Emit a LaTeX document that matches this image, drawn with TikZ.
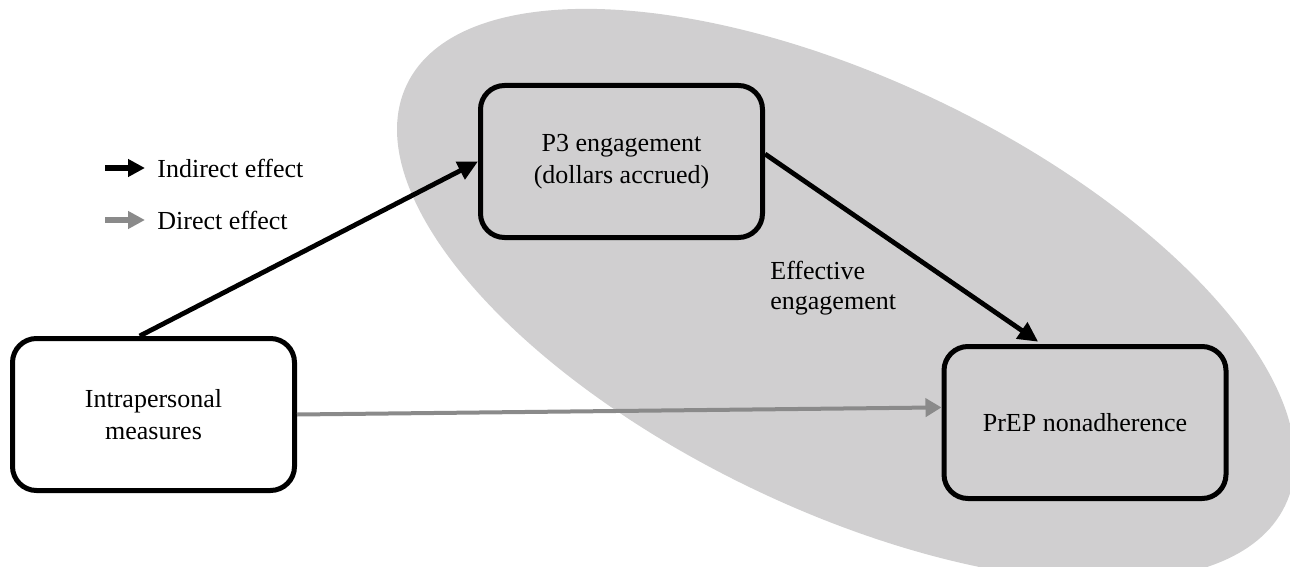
\documentclass[tikz,border=0pt]{standalone}
\usepackage{fontspec}
\setmainfont{Liberation Serif}
\usetikzlibrary{arrows.meta,calc}
\definecolor{blobgray}{RGB}{208,207,208}
\definecolor{directgray}{RGB}{138,138,138}
\begin{document}
\begin{tikzpicture}[x=0.5pt,y=-0.5pt,
  box/.style={draw=black, line width=2.5pt, rounded corners=12pt, minimum width=141pt, minimum height=76pt, align=center, font=\fontsize{13}{16}\selectfont, inner sep=0pt},
  ind/.style={draw=black, line width=2.4pt, -{Triangle[length=10pt,width=9.5pt]}},
  dir/.style={draw=directgray, line width=2pt, -{Triangle[length=8pt,width=9pt]}},
  legind/.style={draw=black, line width=3pt, -{Triangle[length=8.5pt,width=8.5pt]}},
  legdir/.style={draw=directgray, line width=3pt, -{Triangle[length=8.5pt,width=8.5pt]}},
  lbl/.style={font=\fontsize{13}{15}\selectfont, inner sep=0pt, align=left}
]
\useasboundingbox (0,0) rectangle (1290,567);
\begin{scope}
  \clip (0,0) rectangle (1290,567);
  \fill[blobgray, rotate around={-25.6:(846,295)}] (846,295) ellipse [x radius=243.5pt, y radius=107.5pt];
\end{scope}

\node[box, fill=white] (intra) at (153.5,414.5) {Intrapersonal\\measures};
\node[box] (p3) at (621.5,161.5) {P3 engagement\\(dollars accrued)};
\node[box] (prep) at (1085,422.5) {PrEP nonadherence};
\node[lbl, anchor=west] (eff) at (770,288) {Effective\\engagement};

\node[lbl, anchor=west] (lind) at (157,168) {Indirect effect};
\node[lbl, anchor=west] (ldir) at (157,220) {Direct effect};
\coordinate (lindstart) at (105,168);
\coordinate (ldirstart) at (105,220);

\draw[ind] (intra.100) -- (p3.west);
\draw[ind, shorten >=2pt] (p3.3) -- (prep.119);
\draw[dir] (intra.east) -- (prep.174);

\draw[legind, shorten >=6pt] (lindstart) -- (lind.west);
\draw[legdir, shorten >=6pt] (ldirstart) -- (ldir.west);
\end{tikzpicture}
\end{document}
